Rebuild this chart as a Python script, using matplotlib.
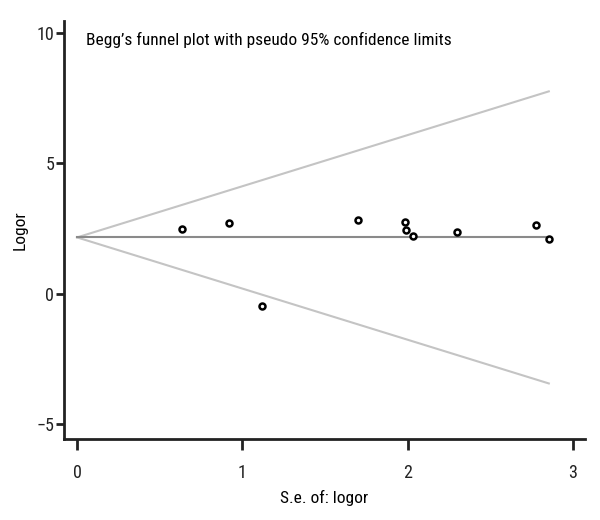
import matplotlib
matplotlib.use("Agg")
import matplotlib.pyplot as plt
from matplotlib import font_manager
import numpy as np

se = [0.633, 0.918, 1.121, 1.702, 1.982, 1.990, 2.035, 2.299, 2.777, 2.855]
logor = [2.49, 2.72, -0.47, 2.82, 2.76, 2.45, 2.20, 2.35, 2.63, 2.08]
pooled = 2.16
xticks = [0, 1, 2, 3]
yticks = [-5, 0, 5, 10]

names = {f.name for f in font_manager.fontManager.ttflist}
fam = ['Liberation Sans Narrow', 'DejaVu Sans'] if 'Liberation Sans Narrow' in names else ['Roboto Condensed', 'DejaVu Sans']
plt.rcParams['font.family'] = fam

fig = plt.figure(figsize=(6, 5.2), dpi=100)
ax = fig.add_axes([0.1067, 0.156, 0.868, 0.804])

smax = max(se)
s = np.array([0, smax])
ax.plot(s, pooled + 1.96 * s, color='#c4c4c4', lw=1.5)
ax.plot(s, pooled - 1.96 * s, color='#c4c4c4', lw=1.5)
ax.plot(s, [pooled, pooled], color='#8a8a8a', lw=1.5)
ax.plot(se, logor, 'o', ms=4.3, mfc='white', mec='black', mew=1.8, zorder=5)

ax.set_xlim(-0.079, 3.073)
ax.set_ylim(-5.56, 10.46)
ax.set_xticks(xticks)
ax.set_yticks(yticks)
ax.set_yticklabels(['\u22125', '0', '5', '10'])
for sp in ['top', 'right']:
    ax.spines[sp].set_visible(False)
for sp in ['left', 'bottom']:
    ax.spines[sp].set_linewidth(2)
    ax.spines[sp].set_color('#222222')
ax.tick_params(axis='y', length=6, width=2, labelsize=13, pad=1, colors='#222222')
ax.tick_params(axis='x', length=8, width=2, labelsize=13, pad=10, colors='#222222')
ax.set_xlabel('S.e. of: logor', fontsize=12.5, labelpad=6)
ax.set_ylabel('Logor', fontsize=12.5, labelpad=6)
ax.text(0.042, 0.955, "Begg\u2019s funnel plot with pseudo 95% confidence limits",
        transform=ax.transAxes, fontsize=12.5, va='center', ha='left')

fig.savefig('out.png', dpi=100)
